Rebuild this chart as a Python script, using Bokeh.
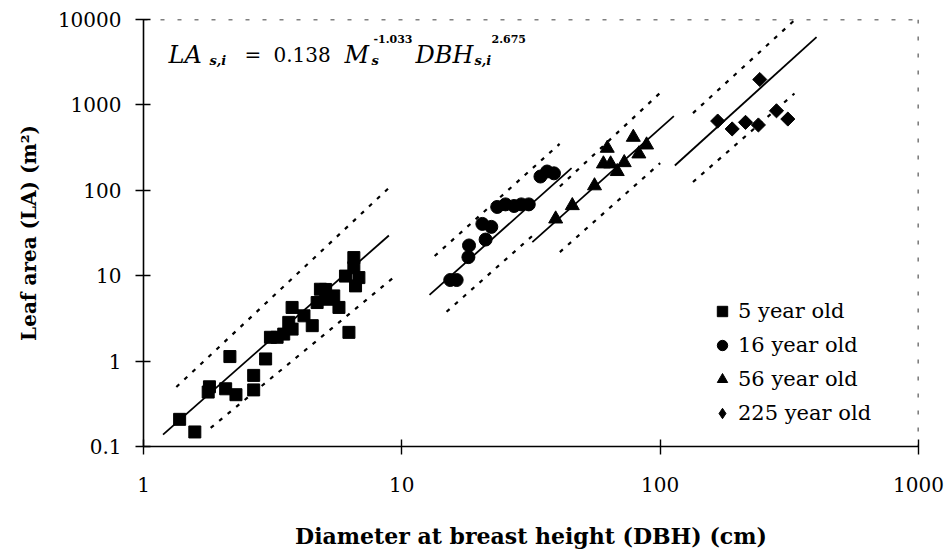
import numpy as np
from bokeh.plotting import figure
from bokeh.models import Range1d, FixedTicker, Span, Label, Legend, LegendItem
from bokeh.embed import file_html
from bokeh.resources import INLINE

# ---------------- data ----------------
x_ticks = [1, 10, 100, 1000]
x_tick_labels = ["1", "10", "100", "1000"]
y_ticks = [0.1, 1, 10, 100, 1000, 10000]
y_tick_labels = ["0.1", "1", "10", "100", "1000", "10000"]

series_names = ["5 year old", "16 year old", "56 year old", "225 year old"]

# 5 year old (squares)
dbh_5 = [1.38, 1.58, 1.78, 1.80, 2.08, 2.16, 2.28, 2.67, 2.67, 2.97, 3.10, 3.29, 3.49, 3.76, 3.76,
         3.65, 4.18, 4.50, 4.84, 5.07, 4.70, 5.14, 5.45, 5.71, 6.24, 6.05, 6.52, 6.52, 6.82, 6.62]
la_5 = [0.208, 0.148, 0.434, 0.50, 0.474, 1.13, 0.404, 0.68, 0.46, 1.06, 1.90, 1.90, 2.07, 2.37, 4.25,
        2.84, 3.39, 2.60, 6.94, 6.90, 4.85, 5.30, 5.80, 4.25, 2.17, 9.90, 16.3, 12.4, 9.50, 7.60]

# 16 year old (circles)
dbh_16 = [15.4, 16.3, 18.1, 18.2, 20.5, 21.1, 22.2, 23.4, 25.2, 27.2, 29.0, 31.0, 34.4, 36.5, 38.8]
la_16 = [8.9, 8.9, 16.5, 22.6, 40.4, 26.5, 37.3, 63.8, 68.4, 65.5, 68.4, 68.4, 145, 166, 158]

# 56 year old (triangles)
dbh_56 = [39.4, 45.7, 55.7, 62.4, 60.3, 64.3, 68.2, 72.6, 78.7, 82.7, 88.6]
la_56 = [46.2, 66.2, 113, 311, 204, 204, 166, 211, 418, 267, 340]

# 225 year old (diamonds)
dbh_225 = [167, 190, 214, 240, 243, 282, 312]
la_225 = [647, 523, 625, 582, 1982, 853, 683]

# fitted lines and dashed bands (end points, one segment per stand)
fit_xs = [[1.19, 8.91], [12.8, 45.4], [32.0, 113.0], [114.0, 403.0]]
fit_ys = [[0.138, 29.6], [5.96, 182.0], [24.7, 740.0], [195.0, 6220.0]]
upper_xs = [[1.34, 9.18], [13.4, 40.8], [40.9, 100.0], [134.0, 330.0]]
upper_ys = [[0.497, 116.0], [17.0, 349.0], [111.0, 1384.0], [802.0, 9730.0]]
lower_xs = [[1.82, 9.18], [14.9, 33.2], [40.9, 100.0], [134.0, 331.0]]
lower_ys = [[0.165, 9.25], [3.78, 32.3], [18.9, 208.0], [125.0, 1361.0]]

# ---------------- figure ----------------
FL, FR, FT, FB = 143, 29, 19, 103
W, H = 947, 551

p = figure(width=W, height=H, x_axis_type="log", y_axis_type="log",
           x_range=Range1d(1, 1000), y_range=Range1d(0.1, 10000),
           output_backend="svg", toolbar_location=None,
           min_border_left=FL, min_border_right=FR, min_border_top=FT, min_border_bottom=FB,
           background_fill_color="white", border_fill_color="white")
p.outline_line_color = None
p.grid.visible = False

SERIF = "DejaVu Serif"

for ax, ticks, labels in ((p.xaxis[0], x_ticks, x_tick_labels), (p.yaxis[0], y_ticks, y_tick_labels)):
    ax.ticker = FixedTicker(ticks=ticks, minor_ticks=[])
    ax.major_label_overrides = {t: l for t, l in zip(ticks, labels)}
    ax.axis_line_color = "black"
    ax.axis_line_width = 1.6
    ax.major_tick_line_color = "black"
    ax.major_tick_line_width = 1.4
    ax.major_tick_in = 7
    ax.major_tick_out = 8
    ax.minor_tick_line_color = None
    ax.major_label_text_font = SERIF
    ax.major_label_text_font_size = "20px"
    ax.major_label_text_color = "black"
    ax.axis_label_text_font = SERIF
    ax.axis_label_text_font_style = "bold"
    ax.axis_label_text_color = "black"

p.xaxis.major_label_standoff = 22
p.yaxis.major_label_standoff = 14
p.xaxis.axis_label = "Diameter at breast height (DBH) (cm)"
p.yaxis.axis_label = "Leaf area (LA) (m²)"
p.xaxis.axis_label_text_font_size = "22px"
p.yaxis.axis_label_text_font_size = "20px"
p.xaxis.axis_label_standoff = 28
p.yaxis.axis_label_standoff = 14

# dotted top/right border
p.add_layout(Span(location=10000, dimension="width", line_color="black",
                  line_dash="4 13", line_width=1.6))
p.add_layout(Span(location=1000, dimension="height", line_color="black",
                  line_dash="4 13", line_width=1.6))

# fitted lines and bands
p.multi_line(fit_xs, fit_ys, line_color="black", line_width=1.8)
p.multi_line(upper_xs, upper_ys, line_color="black", line_width=2.2, line_dash="4 7")
p.multi_line(lower_xs, lower_ys, line_color="black", line_width=2.2, line_dash="4 7")

# points
r5 = p.scatter(dbh_5, la_5, marker="square", size=12, color="black")
r16 = p.scatter(dbh_16, la_16, marker="circle", size=13, color="black")
r56 = p.scatter(dbh_56, la_56, marker="triangle", size=14, color="black")
r225 = p.scatter(dbh_225, la_225, marker="square", angle=np.pi / 4, size=10, color="black")
# legend symbol for the diamonds (legend glyphs are drawn unrotated); no visible point
r225_key = p.scatter(x=[np.nan], y=[np.nan], marker="diamond", size=10, color="black")

legend = Legend(items=[LegendItem(label=n, renderers=[r]) for n, r in
                       zip(series_names, [r5, r16, r56, r225_key])],
                location=(566, 20), glyph_width=26, glyph_height=26, label_standoff=3,
                spacing=8, padding=10, margin=0, border_line_color=None,
                background_fill_alpha=0, label_text_font=SERIF,
                label_text_font_size="21px", label_text_color="black")
p.add_layout(legend)

# equation (screen units relative to the frame)
def lab(text, x, y, size, style="normal"):
    p.add_layout(Label(x=x - FL, y=(H - FB) - y, x_units="screen", y_units="screen",
                       text=text, text_font=SERIF, text_font_size=size,
                       text_font_style=style, text_align="left", text_baseline="alphabetic",
                       text_color="black"))

eq_base = 56
lab("LA", 168, eq_base, "24px", "italic")
lab("s,i", 209, eq_base + 6, "13px", "bold italic")
lab("=", 244, eq_base, "20px")
lab("0.138", 273, eq_base, "20px")
lab("M", 344, eq_base, "24px", "italic")
lab("s", 371, eq_base + 6, "13px", "bold italic")
lab("-1.033", 373, eq_base - 16, "11px", "bold")
lab("DBH", 415, eq_base, "24px", "italic")
lab("s,i", 474, eq_base + 6, "13px", "bold italic")
lab("2.675", 491, eq_base - 16, "11px", "bold")

open("out.html", "w").write(file_html(p, INLINE))
